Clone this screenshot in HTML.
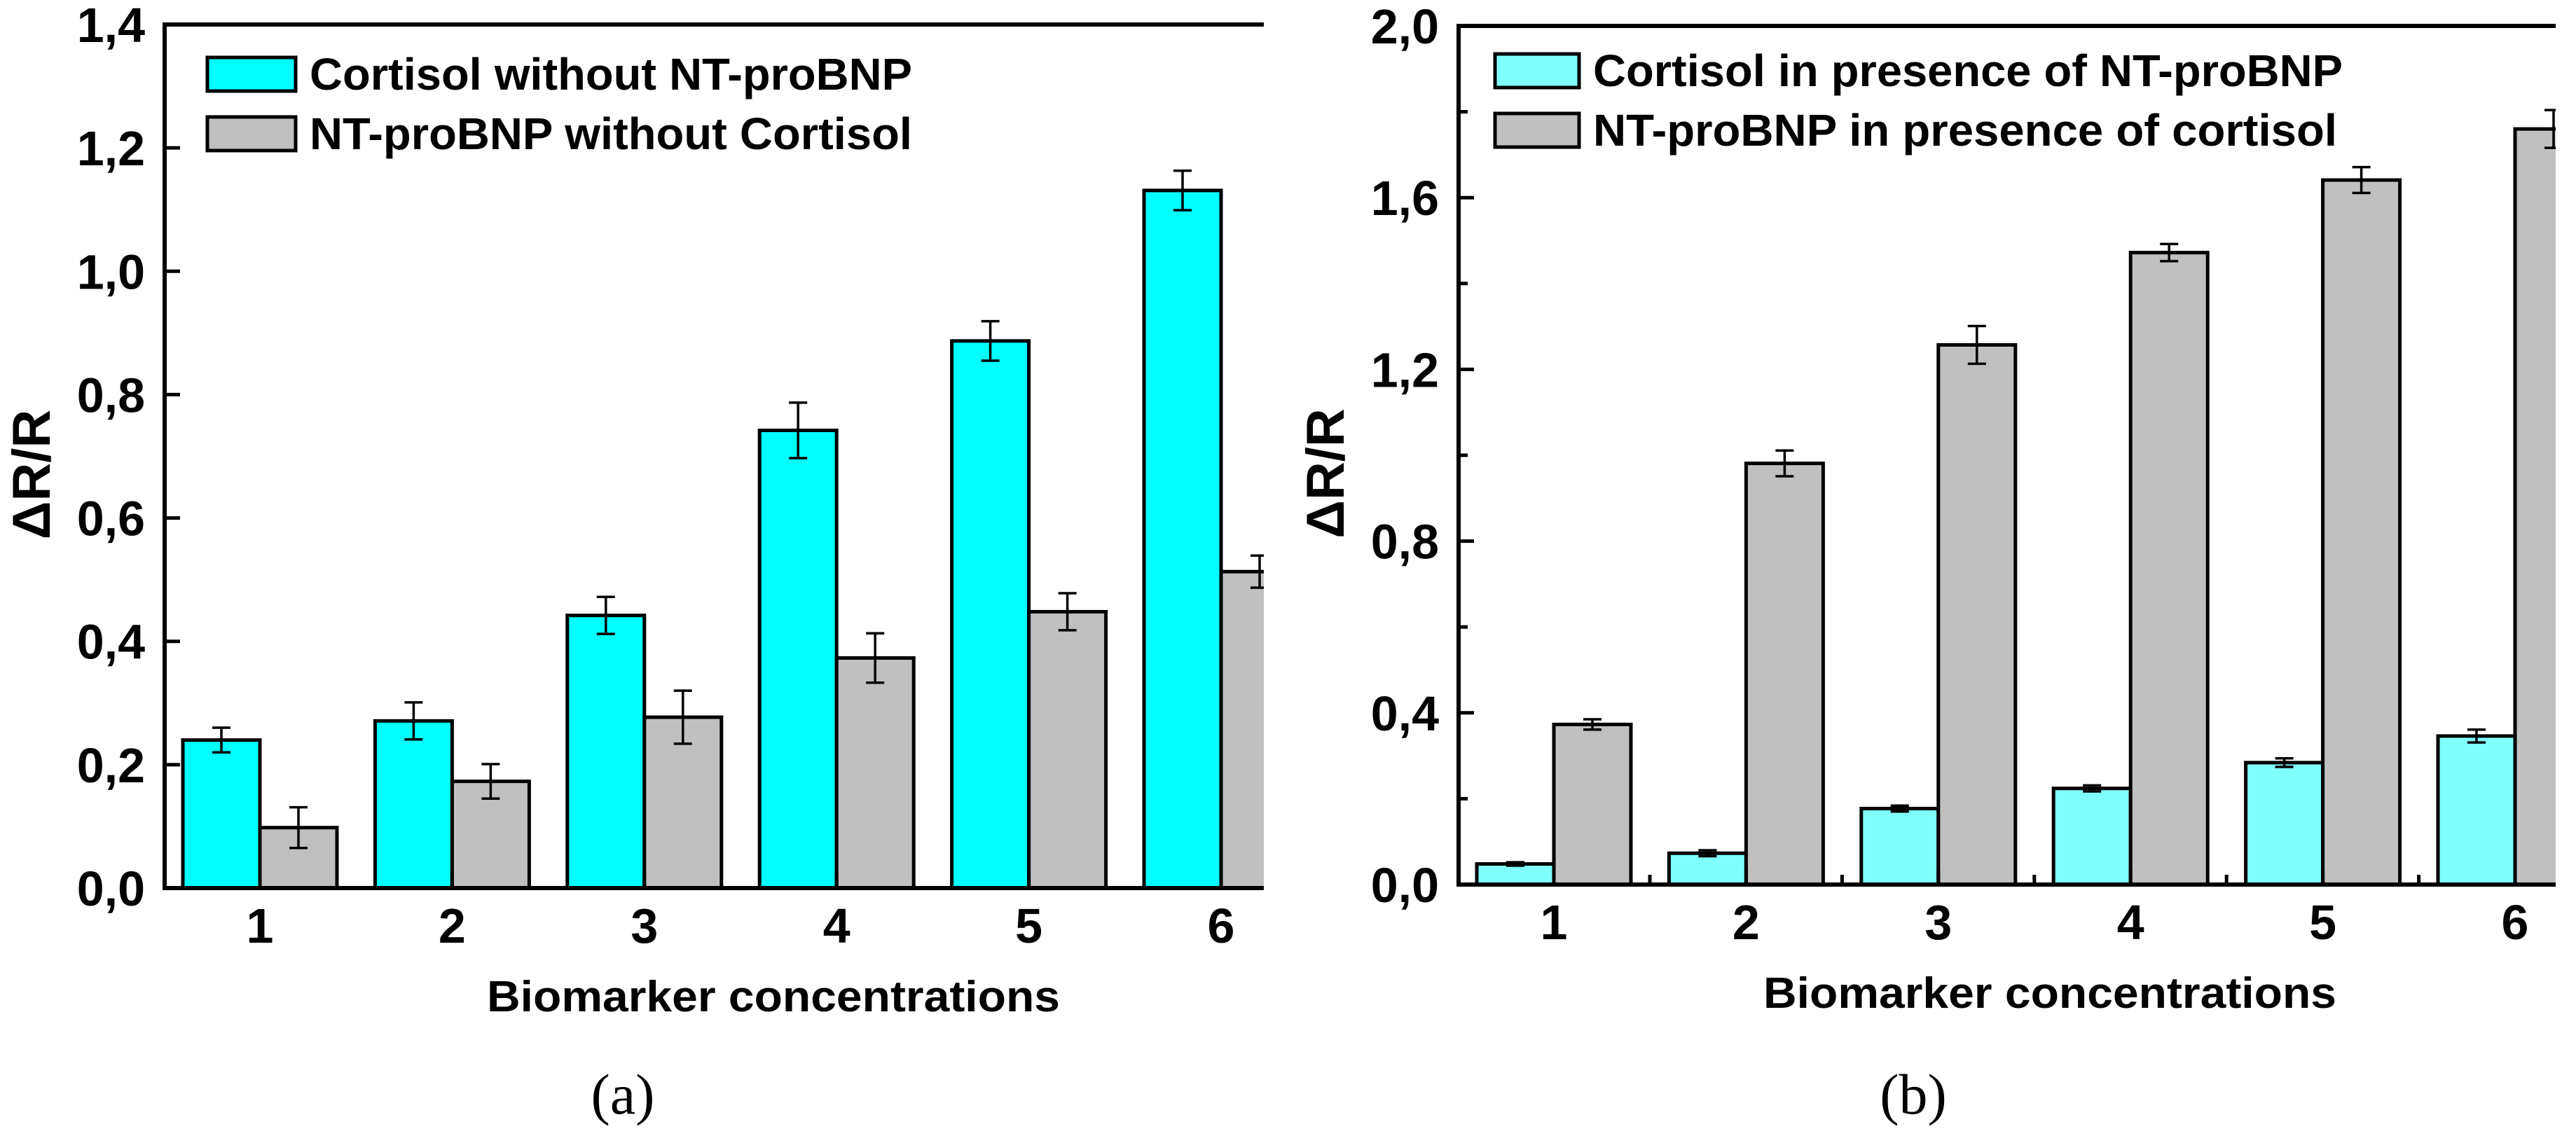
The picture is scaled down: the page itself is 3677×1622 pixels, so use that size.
<!DOCTYPE html>
<html><head><meta charset="utf-8"><style>
html,body{margin:0;padding:0;background:#fff;}
svg{display:block;}
text{font-family:"Liberation Sans",Arial,sans-serif;font-weight:bold;fill:#000;}
.cap{font-family:"Liberation Serif",serif;font-weight:normal;}
</style></head><body>
<svg id="fig" width="3677" height="1622" viewBox="0 0 3677 1622" xmlns="http://www.w3.org/2000/svg">
<defs>
<clipPath id="clipA"><rect x="0" y="0" width="1804" height="1622"/></clipPath>
<clipPath id="clipB"><rect x="1840" y="0" width="1808" height="1622"/></clipPath>
</defs>
<g id="panelA" clip-path="url(#clipA)"></g>
<g id="panelB" clip-path="url(#clipB)"></g>
<text class="cap" x="889" y="1590" font-size="82" text-anchor="middle">(a)</text>
<text class="cap" x="2731" y="1590" font-size="82" text-anchor="middle">(b)</text>
</svg>
<script>
const categories = ["1","2","3","4","5","6"];
const aCortisol = [0.240, 0.271, 0.442, 0.742, 0.887, 1.131];
const aCortisolErr = [0.020, 0.030, 0.030, 0.045, 0.032, 0.032];
const aBnp = [0.098, 0.173, 0.277, 0.373, 0.448, 0.513];
const aBnpErr = [0.033, 0.028, 0.043, 0.040, 0.030, 0.026];
const aTicks = [0, 0.2, 0.4, 0.6, 0.8, 1.0, 1.2, 1.4];
const aTickLabels = ["0,0","0,2","0,4","0,6","0,8","1,0","1,2","1,4"];
const bCortisol = [0.048, 0.073, 0.177, 0.224, 0.284, 0.346];
const bCortisolErr = [0.004, 0.007, 0.007, 0.007, 0.010, 0.015];
const bBnp = [0.373, 0.981, 1.257, 1.472, 1.641, 1.760];
const bBnpErr = [0.012, 0.030, 0.044, 0.020, 0.030, 0.044];
const bTicks = [0, 0.4, 0.8, 1.2, 1.6, 2.0];
const bTickLabels = ["0,0","0,4","0,8","1,2","1,6","2,0"];
const bMinor = [0.2, 0.6, 1.0, 1.4, 1.8];
const NS = "http://www.w3.org/2000/svg";
function mk(parent, tag, attrs, txt){
  const e = document.createElementNS(NS, tag);
  for (const k in attrs) e.setAttribute(k, attrs[k]);
  if (txt !== undefined) e.textContent = txt;
  parent.appendChild(e);
  return e;
}
function drawPanel(g, cfg){
  const x0 = cfg.x0, y0 = cfg.y0, yTop = cfg.yTop, right = cfg.right;
  const yScale = v => y0 - (y0 - yTop) * v / cfg.yMax;
  const xScale = i => x0 + 136 + 274.4 * i;
  const bw = 110;
  categories.forEach((c, i) => {
    const xc = xScale(i);
    const r1 = mk(g, "rect", {x: xc - bw, y: yScale(cfg.s1[i]), width: bw, height: y0 - yScale(cfg.s1[i]), fill: cfg.c1, stroke: "#000", "stroke-width": 5});
    
    
    const r2 = mk(g, "rect", {x: xc, y: yScale(cfg.s2[i]), width: bw, height: y0 - yScale(cfg.s2[i]), fill: "#c0c0c0", stroke: "#000", "stroke-width": 5});
    
    
    [[xc - bw/2, cfg.s1[i], cfg.e1[i], cfg.n1], [xc + bw/2, cfg.s2[i], cfg.e2[i], cfg.n2]].forEach(d => {
      const eg = mk(g, "g", {stroke: "#000", "stroke-width": 3.5, fill: "none"});
      
      
      const yt = yScale(d[1] + d[2]), yb = yScale(d[1] - d[2]);
      mk(eg, "line", {x1: d[0], x2: d[0], y1: yt, y2: yb});
      mk(eg, "line", {x1: d[0] - 13, x2: d[0] + 13, y1: yt, y2: yt});
      mk(eg, "line", {x1: d[0] - 13, x2: d[0] + 13, y1: yb, y2: yb});
    });
    const tk = mk(g, "line", {x1: xc, x2: xc, y1: y0, y2: y0 - 22, stroke: "#000", "stroke-width": 5});
    
    
    if (cfg.xMinor) {
      mk(g, "line", {x1: xc + 137, x2: xc + 137, y1: y0, y2: y0 - 14, stroke: "#000", "stroke-width": 5});
    }
    const tl = mk(g, "text", {x: xc, y: y0 + 78, "font-size": 70, "text-anchor": "middle"}, c);
    
    
  });
  const ax = mk(g, "path", {d: `M${right + 20},${yTop} H${x0} V${y0} H${right + 20}`, fill: "none", stroke: "#000", "stroke-width": 6});
  
  
  cfg.ticks.forEach((v, i) => {
    const y = yScale(v);
    mk(g, "line", {x1: x0, x2: x0 + 22, y1: y, y2: y, stroke: "#000", "stroke-width": 5});
    const t = mk(g, "text", {x: x0 - 28, y: y + 25, "font-size": 70, "text-anchor": "end"}, cfg.tickLabels[i]);
    
    
  });
  (cfg.minor || []).forEach(v => {
    const y = yScale(v);
    mk(g, "line", {x1: x0, x2: x0 + 13, y1: y, y2: y, stroke: "#000", "stroke-width": 5});
  });
  const yt = mk(g, "text", {x: 0, y: 0, "font-size": 76, "text-anchor": "middle", transform: `translate(${x0 - 164},${(y0 + yTop) / 2 + 26}) rotate(-90)`}, "ΔR/R");
  
  
  const xt = mk(g, "text", {x: cfg.xTitleX, y: y0 + 176, "font-size": 62, "text-anchor": "middle", textLength: 818, lengthAdjust: "spacingAndGlyphs"}, "Biomarker concentrations");
  
  
  const lg = mk(g, "g", {});
  
  
  [[cfg.c1, cfg.l1, 0], ["#c0c0c0", cfg.l2, 1]].forEach(d => {
    const yy = cfg.legY + d[2] * 85;
    const e = mk(lg, "g", {});
    
    
    mk(e, "rect", {x: cfg.legX, y: yy, width: cfg.legW, height: 48, fill: d[0], stroke: "#000", "stroke-width": 5});
    mk(e, "text", {x: cfg.legX + cfg.legW + 20, y: yy + 46, "font-size": 64, textLength: cfg.legTL[d[2]], lengthAdjust: "spacingAndGlyphs"}, d[1]);
  });
}
drawPanel(document.getElementById("panelA"), {
  x0: 235, y0: 1268, yTop: 35, right: 1804, yMax: 1.4,
  s1: aCortisol, e1: aCortisolErr, s2: aBnp, e2: aBnpErr, c1: "#00ffff",
  n1: "cortisol", n2: "ntprobnp",
  ticks: aTicks, tickLabels: aTickLabels, minor: [], xMinor: false,
  xTitleX: 1104, legX: 296, legY: 82, legW: 126,
  l1: "Cortisol without NT-proBNP", l2: "NT-proBNP without Cortisol", legTL: [860, 860]
});
drawPanel(document.getElementById("panelB"), {
  x0: 2082, y0: 1263, yTop: 37, right: 3648, yMax: 2.0,
  s1: bCortisol, e1: bCortisolErr, s2: bBnp, e2: bBnpErr, c1: "#80ffff",
  n1: "cortisol-with-ntprobnp", n2: "ntprobnp-with-cortisol",
  ticks: bTicks, tickLabels: bTickLabels, minor: bMinor, xMinor: true,
  xTitleX: 2926, legX: 2134, legY: 77, legW: 120,
  l1: "Cortisol in presence of NT-proBNP", l2: "NT-proBNP in presence of cortisol", legTL: [1070, 1062]
});
</script>
</body></html>
